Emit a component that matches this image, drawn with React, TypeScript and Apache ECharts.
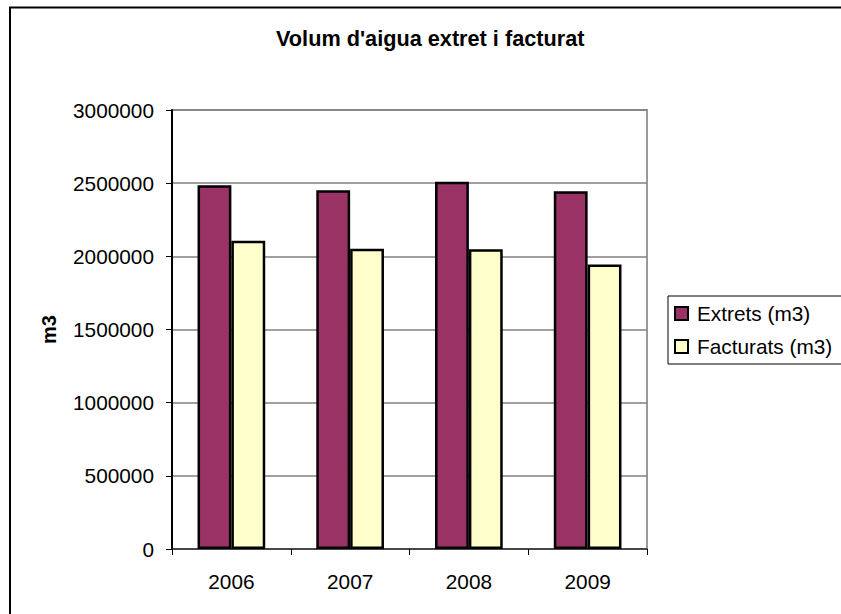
import React, { useEffect, useRef } from "react";
import * as echarts from "echarts";

const titleText = "Volum d'aigua extret i facturat";
const yAxisName = "m3";
const years = ["2006", "2007", "2008", "2009"];
const extretsName = "Extrets (m3)";
const facturatsName = "Facturats (m3)";
const extrets = [2486000, 2452000, 2509000, 2445000];
const facturats = [2106000, 2051000, 2049000, 1945000];

const FONT = "Liberation Sans, Arial, sans-serif";

export default function App() {
  const ref = useRef<HTMLDivElement>(null);
  useEffect(() => {
    if (!ref.current) return;
    const chart = echarts.init(ref.current, undefined, { renderer: "svg" });
    chart.setOption({
      animation: false,
      backgroundColor: "#fff",
      textStyle: { fontFamily: FONT },
      title: {
        text: titleText,
        left: 276,
        top: 27,
        padding: 0,
        textStyle: { fontFamily: FONT, fontSize: 21.7, fontWeight: "bold", color: "#000" },
      },
      legend: {
        orient: "vertical",
        left: 668,
        top: 296,
        padding: [7, 18, 7, 6],
        itemGap: 12,
        itemWidth: 13,
        itemHeight: 13,
        icon: "rect",
        borderColor: "#000",
        borderWidth: 1,
        backgroundColor: "#fff",
        itemStyle: { borderColor: "#000", borderWidth: 2 },
        textStyle: { fontFamily: FONT, fontSize: 20.8, color: "#000", padding: [0, 0, 0, 4] },
        data: [extretsName, facturatsName],
      },
      grid: {
        left: 172,
        top: 110,
        right: 194,
        bottom: 65,
        show: true,
        borderColor: "#999",
        borderWidth: 2,
        backgroundColor: "transparent",
      },
      xAxis: {
        type: "category",
        data: years,
        axisLine: { lineStyle: { color: "#333", width: 1.5 } },
        axisTick: { show: true, alignWithLabel: false, inside: false, length: 6, lineStyle: { color: "#000" } },
        axisLabel: { fontFamily: FONT, fontSize: 20.8, color: "#000", margin: 22 },
      },
      yAxis: {
        type: "value",
        min: 0,
        max: 3000000,
        interval: 500000,
        name: yAxisName,
        nameLocation: "middle",
        nameGap: 113,
        nameRotate: 90,
        nameTextStyle: { fontFamily: FONT, fontSize: 20, fontWeight: "bold", color: "#000" },
        axisLine: { show: true, lineStyle: { color: "#000", width: 2 } },
        axisTick: { show: true, inside: false, length: 6, lineStyle: { color: "#000" } },
        axisLabel: {
          fontFamily: FONT,
          fontSize: 20.8,
          color: "#000",
          margin: 18,
          formatter: (v: number) => String(v),
        },
        splitLine: { show: true, lineStyle: { color: "#808080", width: 1.5 } },
      },
      series: [
        {
          name: extretsName,
          type: "bar",
          data: extrets,
          barGap: "0%",
          barCategoryGap: "43%",
          itemStyle: { color: "#993366", borderColor: "#000", borderWidth: 2.5 },
        },
        {
          name: facturatsName,
          type: "bar",
          data: facturats,
          barGap: "0%",
          barCategoryGap: "43%",
          itemStyle: { color: "#FFFFCC", borderColor: "#000", borderWidth: 2.5 },
        },
      ],
      graphic: [
        {
          type: "rect",
          shape: { x: 10, y: 7.5, width: 1000, height: 800 },
          style: { fill: "none", stroke: "#000", lineWidth: 2 },
          silent: true,
          z: 100,
        },
      ],
    });
    return () => chart.dispose();
  }, []);
  return (
    <div
      ref={ref}
      style={{ position: "absolute", left: 0, top: 0, width: 841, height: 614 }}
    />
  );
}
